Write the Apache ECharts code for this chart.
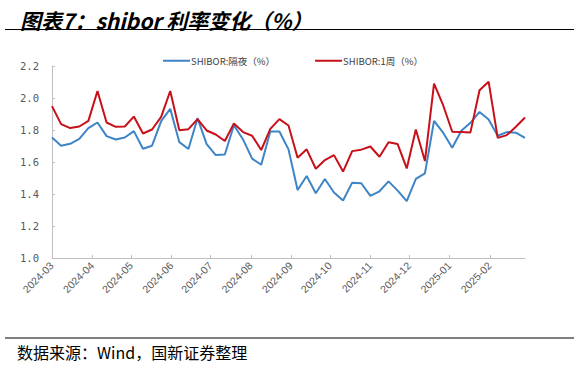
<!DOCTYPE html>
<html>
<head>
<meta charset="utf-8">
<script src="https://cdn.jsdelivr.net/npm/echarts@6/dist/echarts.min.js"></script>
<style>
html,body{margin:0;padding:0;background:#fff;}
#c{width:578px;height:366px;}
</style>
</head>
<body>
<div id="c"></div>
<script>
const titleText = '图表7：shibor 利率变化（%）';
const sourceText = '数据来源：Wind，国新证券整理';
const seriesNames = ['SHIBOR:隔夜（%）', 'SHIBOR:1周（%）'];
const dates = [
 '2024-03-01','2024-03-08','2024-03-15','2024-03-22','2024-03-29',
 '2024-04-05','2024-04-12','2024-04-19','2024-04-26',
 '2024-05-03','2024-05-10','2024-05-17','2024-05-24','2024-05-31',
 '2024-06-07','2024-06-14','2024-06-21','2024-06-28',
 '2024-07-05','2024-07-12','2024-07-19','2024-07-26',
 '2024-08-02','2024-08-09','2024-08-16','2024-08-23','2024-08-30',
 '2024-09-06','2024-09-13','2024-09-20','2024-09-27',
 '2024-10-04','2024-10-11','2024-10-18','2024-10-25',
 '2024-11-01','2024-11-08','2024-11-15','2024-11-22','2024-11-29',
 '2024-12-06','2024-12-13','2024-12-20','2024-12-27',
 '2025-01-03','2025-01-10','2025-01-17','2025-01-24','2025-01-31',
 '2025-02-07','2025-02-14','2025-02-21','2025-02-28'
];
const overnight = [
 1.753,1.702,1.714,1.745,1.812,
 1.847,1.762,1.741,1.753,
 1.793,1.683,1.702,1.855,1.932,
 1.724,1.681,1.874,1.712,
 1.643,1.647,1.830,1.741,
 1.621,1.583,1.791,1.791,1.679,
 1.425,1.513,1.405,1.494,
 1.409,1.359,1.471,1.467,
 1.388,1.417,1.479,1.421,1.355,
 1.494,1.529,1.857,1.783,
 1.689,1.795,1.845,1.913,1.866,
 1.764,1.787,1.783,1.751
];
const oneWeek = [
 1.949,1.837,1.812,1.822,1.857,
 2.044,1.847,1.820,1.822,
 1.884,1.778,1.803,1.882,2.044,
 1.799,1.805,1.868,1.797,
 1.772,1.731,1.841,1.787,
 1.764,1.675,1.807,1.868,1.828,
 1.627,1.679,1.558,1.612,
 1.643,1.540,1.668,1.677,
 1.697,1.633,1.724,1.712,1.560,
 1.803,1.606,2.090,1.955,
 1.789,1.787,1.785,2.048,2.102,
 1.751,1.768,1.820,1.878
];
const yTicks = {min: 1.0, max: 2.2, step: 0.2};

const chart = echarts.init(document.getElementById('c'), null, {renderer: 'svg'});
const pair = (vals) => dates.map((d, i) => [d, vals[i]]);
const DAY = 86400000;
const blue = '#3d85c6', red = '#c8101a';
chart.setOption({
  animation: false,
  backgroundColor: '#fff',
  title: {
    text: titleText,
    left: 15, top: 4,
    textStyle: {fontFamily: 'Noto Sans CJK SC', fontSize: 21, fontWeight: 'bold', fontStyle: 'italic', color: '#000'}
  },
  graphic: [
    {type: 'line', shape: {x1: 5, y1: 29.5, x2: 574, y2: 29.5}, style: {stroke: '#000', lineWidth: 1.2}},
    {type: 'line', shape: {x1: 5, y1: 338, x2: 574, y2: 338}, style: {stroke: '#7f7f7f', lineWidth: 2}},
    {type: 'text', left: 17, top: 344, style: {text: sourceText, font: '16px "Noto Sans CJK SC"', fill: '#000'}}
  ],
  legend: {
    left: 163, top: 56, padding: 0,
    itemWidth: 27, itemHeight: 2, itemGap: 40,
    textStyle: {fontFamily: 'Noto Sans CJK SC', fontSize: 9.5, color: '#404040', padding: [0,0,0,-4]},
    data: [
      {name: seriesNames[0], icon: 'rect', itemStyle: {color: blue}},
      {name: seriesNames[1], icon: 'rect', itemStyle: {color: red}}
    ]
  },
  grid: {left: 52, right: 53, top: 66, bottom: 108},
  xAxis: {
    type: 'time',
    min: dates[0], max: dates[dates.length - 1],
    minInterval: 28 * DAY, maxInterval: 31 * DAY,
    axisLine: {lineStyle: {color: '#bfbfbf', width: 1}},
    axisTick: {show: true, inside: true, length: 3, lineStyle: {color: '#bfbfbf'}},
    splitLine: {show: false},
    axisLabel: {
      rotate: 45, margin: 6, fontSize: 10.5, color: '#595959', fontFamily: 'Liberation Sans',
      formatter: '{yyyy}-{MM}', showMaxLabel: false
    }
  },
  yAxis: {
    type: 'value',
    min: yTicks.min, max: yTicks.max, interval: yTicks.step,
    axisLine: {show: true, lineStyle: {color: '#bfbfbf', width: 1}},
    axisTick: {show: true, inside: true, length: 3, lineStyle: {color: '#bfbfbf'}},
    splitLine: {show: false},
    axisLabel: {margin: 13, fontSize: 10.5, color: '#595959', fontFamily: 'DejaVu Sans Mono',
      formatter: (v) => v.toFixed(1)}
  },
  series: [
    {name: seriesNames[0], type: 'line', data: pair(overnight), symbol: 'none',
     lineStyle: {color: blue, width: 2}, itemStyle: {color: blue}},
    {name: seriesNames[1], type: 'line', data: pair(oneWeek), symbol: 'none',
     lineStyle: {color: red, width: 2}, itemStyle: {color: red}}
  ]
});
</script>
</body>
</html>
